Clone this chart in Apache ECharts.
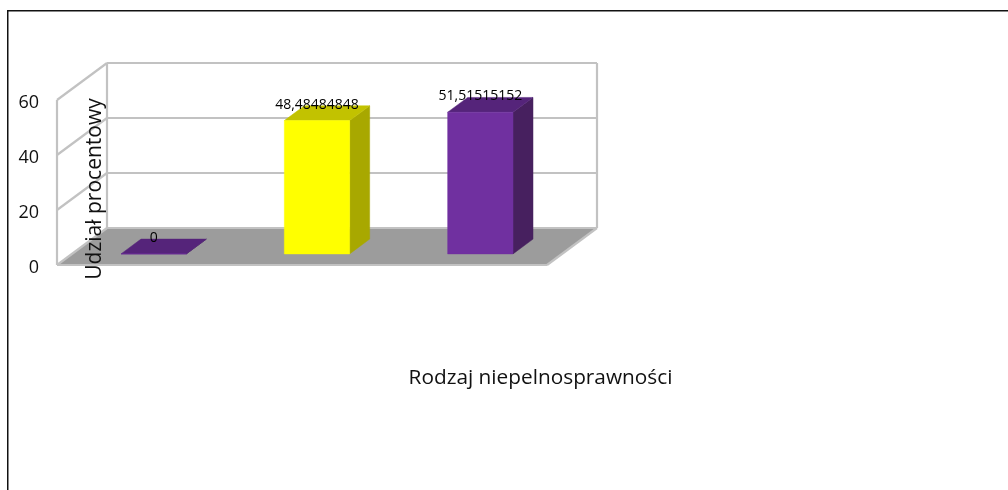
<!DOCTYPE html>
<html>
<head>
    <meta charset="utf-8" />
    <style>
        html, body { margin: 0; padding: 0; background: #fff; }
        #chart { width: 1008px; height: 490px; }
    </style>
    <script src="https://cdn.jsdelivr.net/npm/echarts@6/dist/echarts.min.js"></script>
</head>
<body>
    <div id="chart"></div>
<script type="text/javascript">
    var categories = ['Kategoria 1', 'Kategoria 2', 'Kategoria 3'];
    var values = [0, 48.48484848, 51.51515152];
    var frontColors = ['#7030a0', '#ffff00', '#7030a0'];
    var topColors = ['#55247a', '#c2c200', '#55247a'];
    var sideColors = ['#47205f', '#a8a800', '#47205f'];
    var yTicks = [0, 20, 40, 60];
    var xTitle = 'Rodzaj niepelnosprawności';
    var yTitle = 'Udział procentowy';

    var FONT = '"Open Sans"';
    var DX = 50, DY = 37;       // przesuniecie tylnej sciany
    var WALL = '#c2c2c2', FLOOR = '#9c9c9c';

    function line(x1, y1, x2, y2) {
        return { type: 'line', shape: { x1: x1, y1: y1, x2: x2, y2: y2 }, style: { stroke: WALL, lineWidth: 2.2 } };
    }
    function poly(points, color) {
        return { type: 'polygon', shape: { points: points }, style: { fill: color, stroke: color, lineWidth: 0.5 } };
    }

    function renderFrame(params, api) {
        var c = params.coordSys;
        var left = c.x, right = c.x + c.width;
        var y0 = api.coord([0, 0])[1];
        var kids = [
            poly([[left, y0], [right, y0], [right + DX, y0 - DY], [left + DX, y0 - DY]], FLOOR)
        ];
        for (var i = 0; i < yTicks.length; i++) {
            var y = api.coord([0, yTicks[i]])[1];
            kids.push(line(left, y, left + DX, y - DY));
            kids.push(line(left + DX, y - DY, right + DX, y - DY));
        }
        kids.push(line(left, c.y, left, y0));
        kids.push(line(left + DX, c.y - DY, left + DX, y0 - DY));
        kids.push(line(right + DX, c.y - DY, right + DX, y0 - DY));
        kids.push(line(left, y0, right, y0));
        kids.push(line(right, y0, right + DX, y0 - DY));
        return { type: 'group', children: kids };
    }

    function renderBar(params, api) {
        var i = api.value(0), v = api.value(1);
        var top = api.coord([i, v]), base = api.coord([i, 0]);
        var w = api.size([1, 0])[0] * 0.4;
        // slupek stoi w glebi podlogi: 0.3 do 0.7 glebokosci
        var x1 = top[0] - w / 2 + DX * 0.3, x2 = x1 + w;
        var yT = top[1] - DY * 0.3, yB = base[1] - DY * 0.3;
        var ox = DX * 0.4, oy = DY * 0.4;
        var kids = [
            poly([[x2, yB], [x2 + ox, yB - oy], [x2 + ox, yT - oy], [x2, yT]], sideColors[i]),
            poly([[x1, yT], [x2, yT], [x2 + ox, yT - oy], [x1 + ox, yT - oy]], topColors[i]),
            poly([[x1, yB], [x2, yB], [x2, yT], [x1, yT]], frontColors[i]),
            {
                type: 'text',
                style: {
                    x: (x1 + x2) / 2, y: yT - 16,
                    text: String(values[i]).replace('.', ','),
                    font: '14px ' + FONT, fill: '#000',
                    align: 'center', verticalAlign: 'middle'
                }
            }
        ];
        return { type: 'group', children: kids };
    }

    var chart = echarts.init(document.getElementById('chart'), null, { renderer: 'canvas' });
    chart.setOption({
        animation: false,
        grid: { left: 57, top: 100, width: 490, height: 165 },
        xAxis: {
            type: 'category', data: categories,
            axisLine: { show: false }, axisTick: { show: false }, axisLabel: { show: false }
        },
        yAxis: {
            type: 'value', min: 0, max: 60, interval: 20,
            axisLine: { show: false }, axisTick: { show: false }, splitLine: { show: false },
            axisLabel: {
                margin: 18, formatter: '{t|{value}}',
                rich: { t: { color: '#111', fontFamily: FONT, fontSize: 18, padding: [5, 0, 0, 0] } }
            }
        },
        graphic: [
            { type: 'rect', z: -1, silent: true, shape: { x: 7.75, y: 10.75, width: 1100, height: 600 },
              style: { fill: 'none', stroke: '#111', lineWidth: 1.5 } },
            { type: 'text', z: 100, x: 540.5, y: 378,
              style: { text: xTitle, font: '20.8px ' + FONT, fill: '#111', align: 'center', verticalAlign: 'middle' } },
            { type: 'text', z: 100, x: 95, y: 189, rotation: Math.PI / 2,
              style: { text: yTitle, font: '21px ' + FONT, fill: '#111', align: 'center', verticalAlign: 'middle' } }
        ],
        series: [
            { type: 'custom', data: [[0, 0]], renderItem: renderFrame, silent: true, z: 1, clip: false },
            { type: 'custom', data: values.map(function (v, i) { return [i, v]; }), renderItem: renderBar, z: 2, clip: false }
        ]
    });
</script>
</body>
</html>
